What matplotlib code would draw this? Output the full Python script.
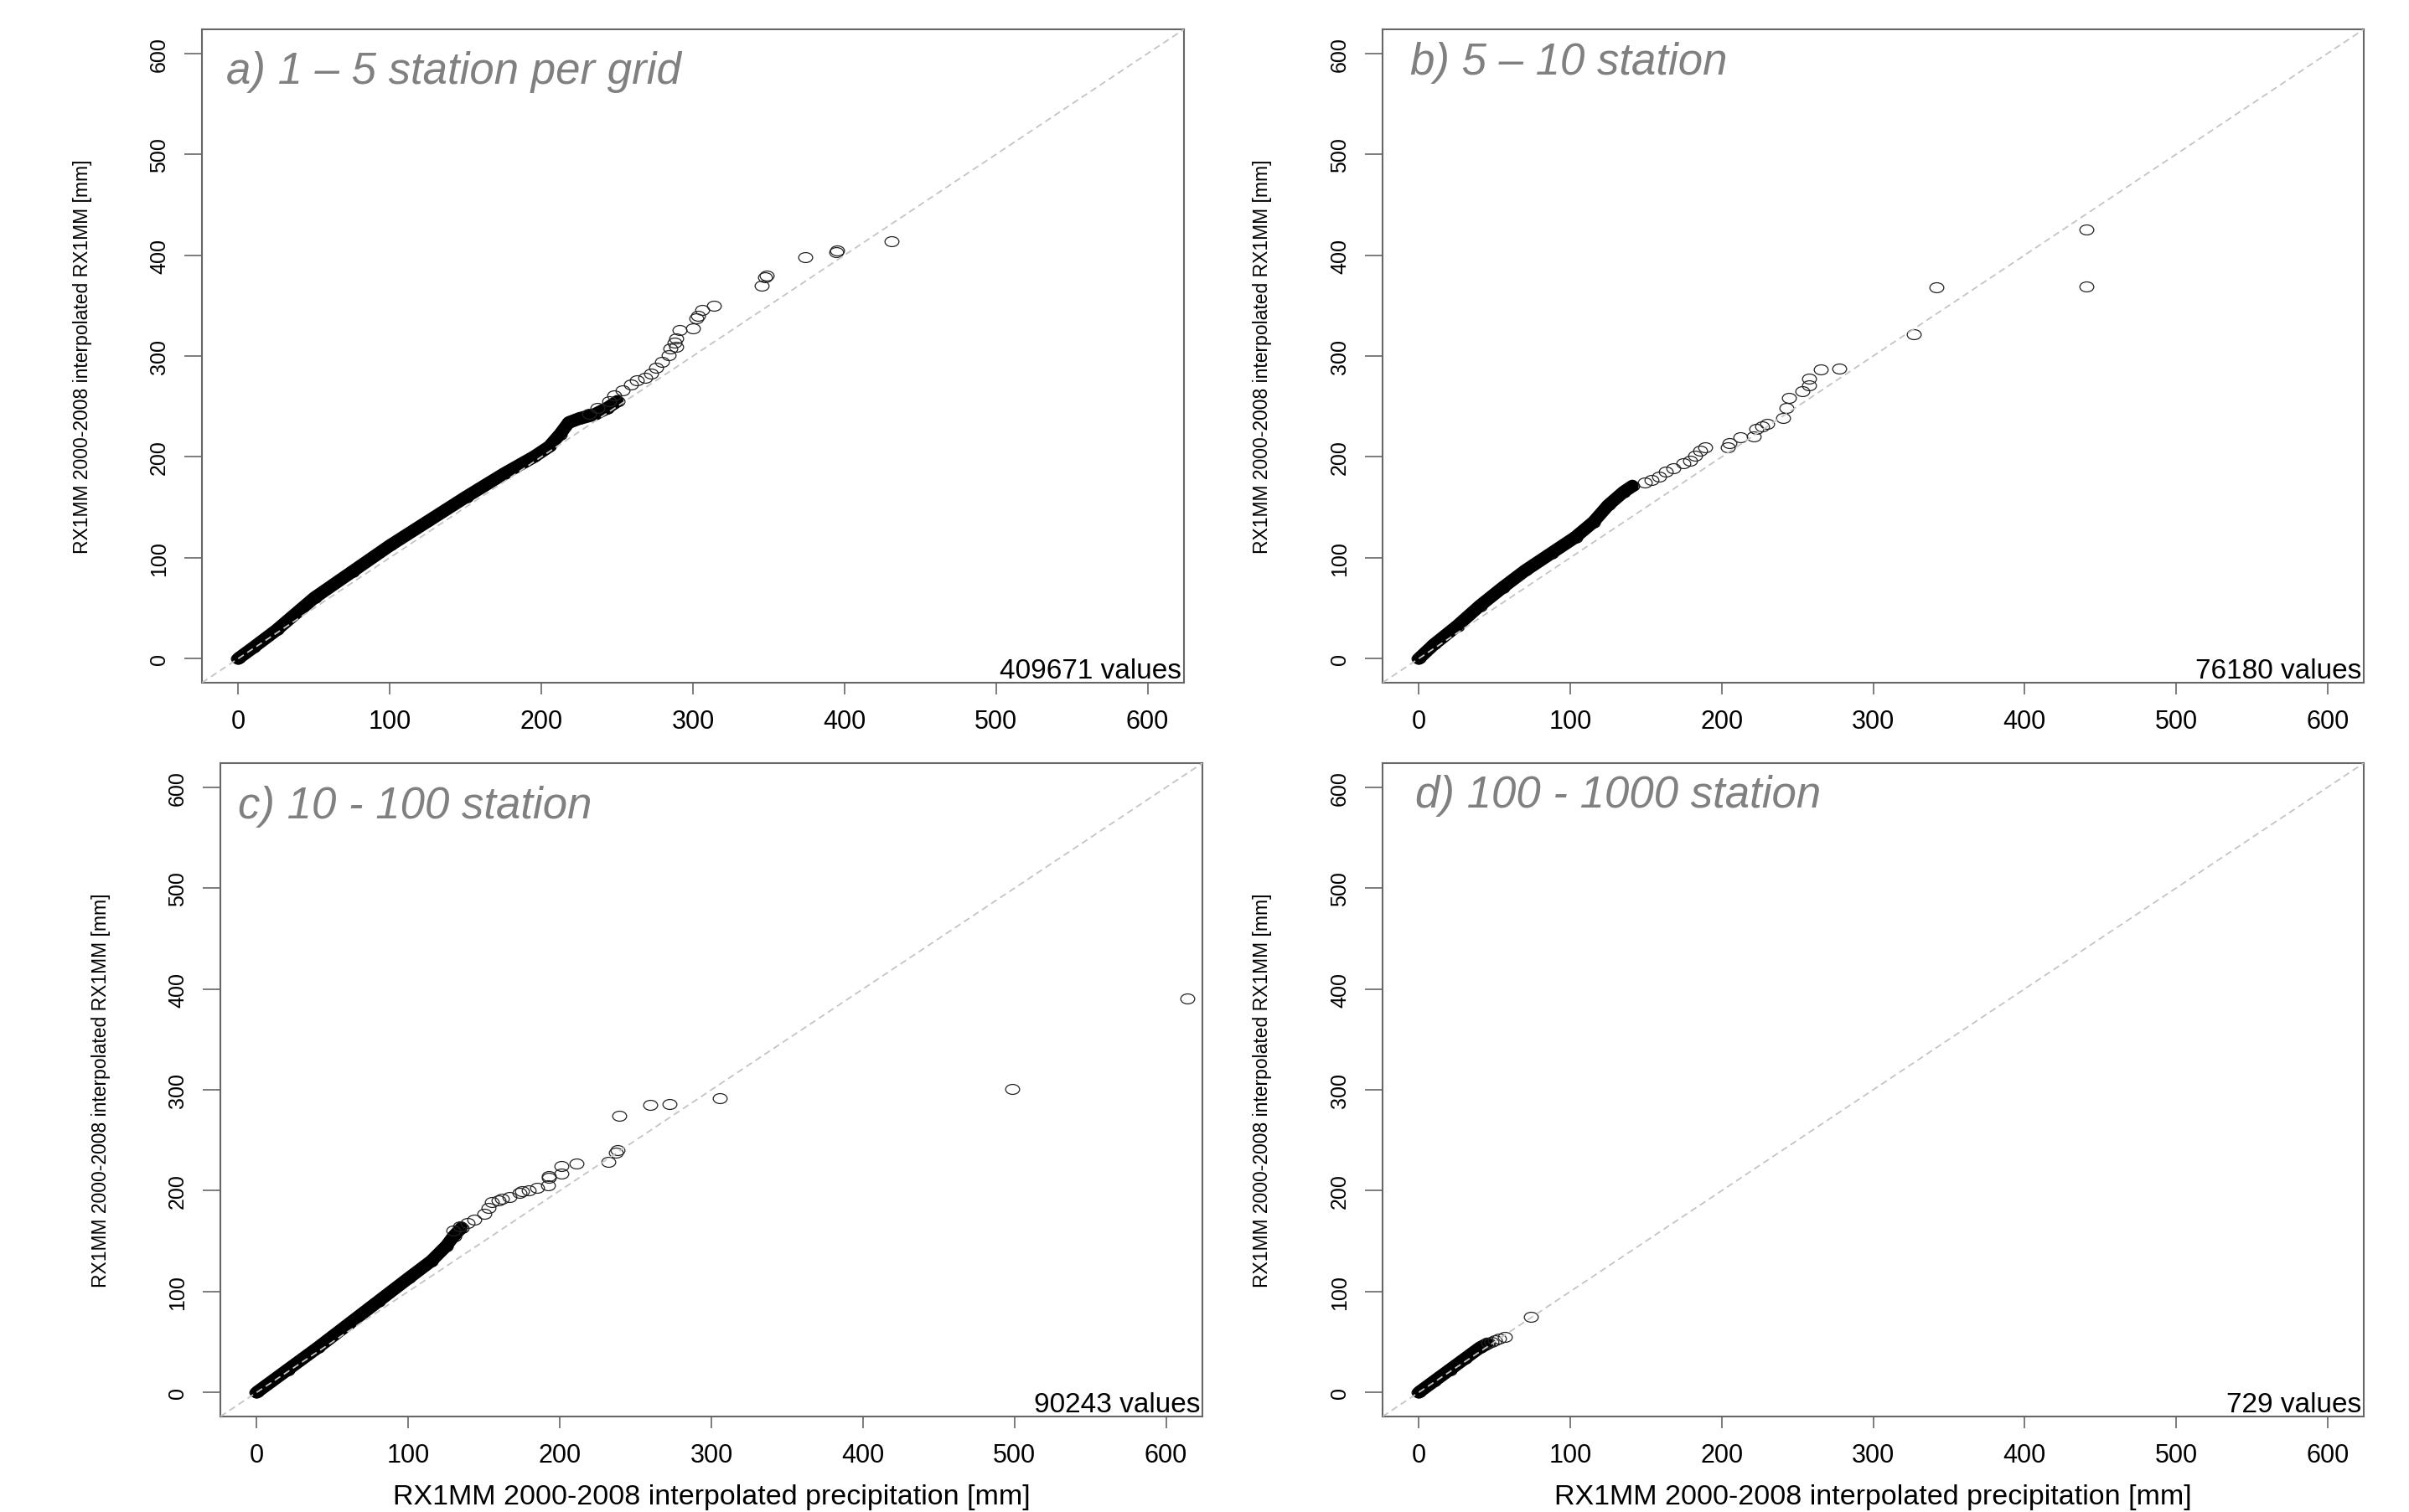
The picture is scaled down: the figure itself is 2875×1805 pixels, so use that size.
import matplotlib
matplotlib.use("Agg")
import matplotlib.pyplot as plt
from matplotlib.path import Path
from matplotlib.transforms import Affine2D

# ---- data (RX1MM station vs interpolated, mm) ----
# dense part of each QQ cloud (drawn as a solid band) and the sparse tail points

a_band_x = [0, 10, 25, 50, 75, 100, 125, 150, 175, 195, 205, 212, 218, 225, 235, 243, 250]
a_band_y = [0, 11, 28, 60, 86, 112, 136, 160, 183, 200, 210, 222, 234, 238, 242, 248, 255]
a_pts_x = [231.6, 237.1, 244.5, 248.2, 253.7, 259.3, 263.0, 268.5, 272.2, 275.8, 279.5,
           284.1, 288.8, 285.0, 287.8, 288.8, 291.0, 299.8, 302.0, 303.2, 306.3, 313.8,
           345.2, 347.8, 348.7, 373.9, 394.4, 395.3, 431.2]
a_pts_y = [242.7, 248.2, 255.1, 260.7, 266.2, 271.8, 275.9, 278.7, 282.8, 288.4, 293.9,
           301.0, 309.0, 307.7, 313.3, 317.4, 325.8, 327.1, 337.4, 339.6, 346.0, 350.1,
           370.0, 378.3, 379.8, 398.0, 403.0, 404.7, 413.8]

b_band_x = [0, 10, 25, 40, 55, 70, 87, 103, 115, 125, 135, 141]
b_band_y = [0, 14, 32, 52, 70, 87, 104, 120, 135, 152, 165, 171]
b_pts_x = [149.0, 153.7, 158.5, 163.3, 168.0, 174.4, 179.1, 182.3, 185.5, 189.3, 203.9,
           205.2, 212.5, 221.0, 222.9, 226.7, 229.9, 240.4, 242.6, 244.2, 253.1, 257.9,
           257.9, 265.2, 277.5, 326.7, 342.0, 441.0, 441.0]
b_pts_y = [174.2, 177.4, 180.6, 185.4, 188.5, 193.3, 196.5, 201.3, 206.0, 209.3, 209.3,
           213.4, 219.4, 220.4, 227.4, 230.0, 233.1, 238.5, 248.1, 258.5, 264.9, 271.3,
           277.7, 286.6, 287.2, 321.3, 367.8, 369.0, 425.7]

c_band_x = [0, 20, 40, 60, 80, 100, 115, 125, 130, 135]
c_band_y = [0, 22, 44, 67, 90, 113, 130, 145, 155, 163]
c_pts_x = [129.7, 134.3, 139.0, 143.5, 150.4, 152.7, 155.0, 159.6, 161.9, 166.5, 173.4,
           174.8, 179.4, 184.9, 192.3, 192.7, 192.7, 201.0, 201.0, 211.1, 231.8, 236.8,
           238.2, 239.2, 259.9, 272.3, 305.4, 498.6, 614.1]
c_pts_y = [160.1, 164.6, 167.6, 171.4, 176.9, 182.6, 188.3, 190.1, 192.0, 193.9, 197.6,
           199.1, 200.6, 202.9, 205.1, 213.0, 214.5, 216.8, 224.3, 227.3, 228.8, 237.4,
           240.0, 274.6, 284.7, 286.2, 291.4, 300.8, 390.9]

d_band_x = [0, 10, 20, 30, 40, 45]
d_band_y = [0, 11, 22, 33, 44, 48]
d_pts_x = [46, 48, 50, 53, 57, 74]
d_pts_y = [49, 50, 52, 53, 55, 75]

titles = ["a) 1 \u2013 5 station per grid", "b) 5 \u2013 10 station",
          "c) 10 - 100 station", "d) 100 - 1000 station"]
counts = ["409671 values", "76180 values", "90243 values", "729 values"]
ticks = [0, 100, 200, 300, 400, 500, 600]
ylabel = "RX1MM 2000-2008 interpolated RX1MM [mm]"
xlabel = "RX1MM 2000-2008 interpolated precipitation [mm]"

panels = [
    (a_band_x, a_band_y, a_pts_x, a_pts_y),
    (b_band_x, b_band_y, b_pts_x, b_pts_y),
    (c_band_x, c_band_y, c_pts_x, c_pts_y),
    (d_band_x, d_band_y, d_pts_x, d_pts_y),
]

# ---- layout (pixels of the 2875x1806 figure) ----
W, H = 2875, 1806
boxes = [(241, 36, 1172, 780), (1650, 36, 1171, 780),
         (263, 912, 1172, 780), (1650, 912, 1171, 780)]
title_off = [(29, 50), (33, 39), (21, 51), (39, 38)]

plt.rcParams['font.family'] = ['Liberation Sans', 'DejaVu Sans']

fig = plt.figure(figsize=(W / 100, H / 100), dpi=100)

# R draws open circles on a horizontally stretched device -> slightly wide rings
ring = Path.unit_circle().transformed(Affine2D().scale(1.4, 1.0))

for i, (bx, by, px, py) in enumerate(panels):
    l, t, w, h = boxes[i]
    ax = fig.add_axes([l / W, (H - t - h) / H, w / W, h / H])

    ax.plot(bx, by, color="black", lw=11, solid_capstyle="round",
            solid_joinstyle="round", zorder=2)
    ax.plot(bx, by, ls="none", marker=ring, ms=12, mfc="none", mec="black",
            mew=0.9, zorder=2)
    ax.plot(px, py, ls="none", marker=ring, ms=12, mfc="none", mec="#222222",
            mew=0.9, zorder=3)
    ax.plot([-24, 624], [-24, 624], color="#c4c4c4", lw=1.3,
            dashes=(4.4, 2.8), zorder=4)

    ax.set_xlim(-24, 624)
    ax.set_ylim(-24, 624)
    ax.set_xticks(ticks)
    ax.set_yticks(ticks)

    for s in ax.spines.values():
        s.set_color("#666666")
        s.set_linewidth(1.5)
    ax.tick_params(axis="x", length=10, width=1.2, color="#666666", pad=12,
                   labelsize=22)
    ax.tick_params(axis="y", length=15, width=1.2, color="#666666", pad=13,
                   labelsize=18, labelrotation=90)
    for lab in ax.get_yticklabels():
        lab.set_va("center")

    ax.set_ylabel(ylabel, fontsize=16.5)
    ax.yaxis.set_label_coords(-143 / w, 0.5)
    ax.yaxis.label.set_va("center")
    if i >= 2:
        ax.set_xlabel(xlabel, fontsize=24.5)
        ax.xaxis.set_label_coords(0.5, -96 / h)
        ax.xaxis.label.set_va("center")

    ox, oy = title_off[i]
    ax.text(ox / w, 1 - oy / h, titles[i], transform=ax.transAxes,
            fontsize=38, style="italic", color="#808080", ha="left", va="center")
    ax.text(1 - 3 / w, 6 / h, counts[i], transform=ax.transAxes,
            fontsize=24, ha="right", va="baseline")

fig.savefig("out.png", dpi=100)
